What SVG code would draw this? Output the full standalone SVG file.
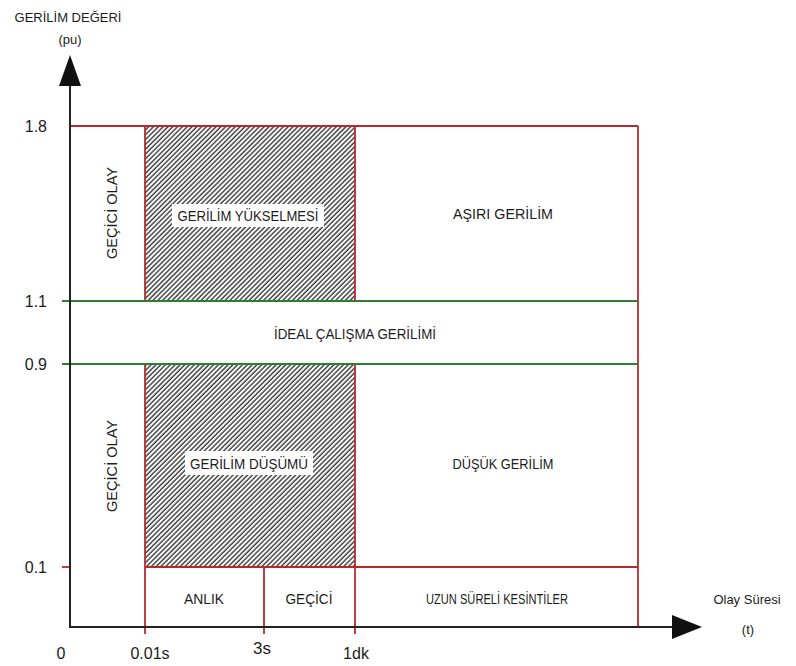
<svg xmlns="http://www.w3.org/2000/svg" width="796" height="666" viewBox="0 0 796 666">
  <defs>
    <pattern id="hatch" width="3.4" height="6" patternUnits="userSpaceOnUse" patternTransform="rotate(45)">
      <line x1="1" y1="0" x2="1" y2="6" stroke="#2a2a2a" stroke-width="1.3"/>
    </pattern>
    <style>
      text { font-family: "Liberation Sans", Arial, sans-serif; fill: #1c1c1c; }
      .lbl { font-size: 15px; text-anchor: middle; }
      .ax { font-size: 13px; text-anchor: middle; }
      .tick { font-size: 16px; }
      .red { stroke: #b52a2e; stroke-width: 1.8; fill: none; }
      .green { stroke: #2f7d35; stroke-width: 1.8; fill: none; }
      .axis { stroke: #222; stroke-width: 2; fill: none; }
      .head { fill: #111; }
      .box { fill: #fff; }
    </style>
  </defs>
  <rect width="796" height="666" fill="#fff"/>

  <!-- hatched regions -->
  <g id="gerilim-yukselmesi">
    <rect x="145" y="126" width="210" height="175" fill="url(#hatch)"/>
    <rect class="box" x="172" y="204" width="152" height="23"/>
    <text class="lbl" x="248" y="221" textLength="141" lengthAdjust="spacingAndGlyphs">GERİLİM YÜKSELMESİ</text>
  </g>
  <g id="gerilim-dusumu">
    <rect x="145" y="364" width="210" height="203" fill="url(#hatch)"/>
    <rect class="box" x="185" y="451" width="128" height="24"/>
    <text class="lbl" x="249" y="469" textLength="118" lengthAdjust="spacingAndGlyphs">GERİLİM DÜŞÜMÜ</text>
  </g>

  <!-- region borders -->
  <g id="connectors">
    <line class="red" x1="70" y1="126" x2="638" y2="126"/>
    <line class="red" x1="638" y1="126" x2="638" y2="627"/>
    <line class="red" x1="145" y1="126" x2="145" y2="301"/>
    <line class="red" x1="355" y1="126" x2="355" y2="301"/>
    <line class="red" x1="145" y1="364" x2="145" y2="634"/>
    <line class="red" x1="355" y1="364" x2="355" y2="634"/>
    <line class="red" x1="264" y1="567" x2="264" y2="634"/>
    <line class="red" x1="145" y1="567" x2="638" y2="567"/>
    <line class="red" x1="62" y1="567" x2="70" y2="567"/>
    <line class="green" x1="62" y1="301" x2="638" y2="301"/>
    <line class="green" x1="62" y1="364" x2="638" y2="364"/>
    <!-- axes -->
    <line class="axis" x1="70" y1="84" x2="70" y2="627"/>
    <line class="axis" x1="69" y1="627" x2="674" y2="627"/>
    <polygon class="head" points="70,55 59,86 81,86"/>
    <polygon class="head" points="702,627 672,615 672,639"/>
  </g>

  <g id="gecici-olay-ust">
    <text class="lbl" transform="translate(117,213) rotate(-90)" textLength="92" lengthAdjust="spacingAndGlyphs">GEÇİCİ OLAY</text>
  </g>
  <g id="gecici-olay-alt">
    <text class="lbl" transform="translate(117,466) rotate(-90)" textLength="92" lengthAdjust="spacingAndGlyphs">GEÇİCİ OLAY</text>
  </g>
  <g id="asiri-gerilim">
    <text class="lbl" x="503" y="219" textLength="100" lengthAdjust="spacingAndGlyphs">AŞIRI GERİLİM</text>
  </g>
  <g id="ideal">
    <text class="lbl" x="355" y="339" textLength="162" lengthAdjust="spacingAndGlyphs">İDEAL ÇALIŞMA GERİLİMİ</text>
  </g>
  <g id="dusuk-gerilim">
    <text class="lbl" x="503" y="469" textLength="101" lengthAdjust="spacingAndGlyphs">DÜŞÜK GERİLİM</text>
  </g>
  <g id="anlik">
    <text class="lbl" x="204" y="604" textLength="40" lengthAdjust="spacingAndGlyphs">ANLIK</text>
  </g>
  <g id="gecici">
    <text class="lbl" x="309" y="604" textLength="47" lengthAdjust="spacingAndGlyphs">GEÇİCİ</text>
  </g>
  <g id="uzun-sureli">
    <text class="lbl" x="497" y="604" textLength="142" lengthAdjust="spacingAndGlyphs">UZUN SÜRELİ KESİNTİLER</text>
  </g>

  <!-- axis labels -->
  <g id="y-axis-labels">
    <text class="ax" x="68" y="22">GERİLİM DEĞERİ</text>
    <text class="ax" x="70" y="44">(pu)</text>
    <text class="tick" x="47" y="132" text-anchor="end">1.8</text>
    <text class="tick" x="47" y="307" text-anchor="end">1.1</text>
    <text class="tick" x="47" y="370" text-anchor="end">0.9</text>
    <text class="tick" x="47" y="573" text-anchor="end">0.1</text>
  </g>
  <g id="x-axis-labels">
    <text class="tick" x="61" y="659" text-anchor="middle">0</text>
    <text class="tick" x="150" y="659" text-anchor="middle">0.01s</text>
    <text class="tick" x="262" y="654" text-anchor="middle" style="font-size:17px">3s</text>
    <text class="tick" x="356" y="659" text-anchor="middle">1dk</text>
    <text class="ax" x="747" y="604">Olay Süresi</text>
    <text class="ax" x="748" y="634">(t)</text>
  </g>
</svg>
